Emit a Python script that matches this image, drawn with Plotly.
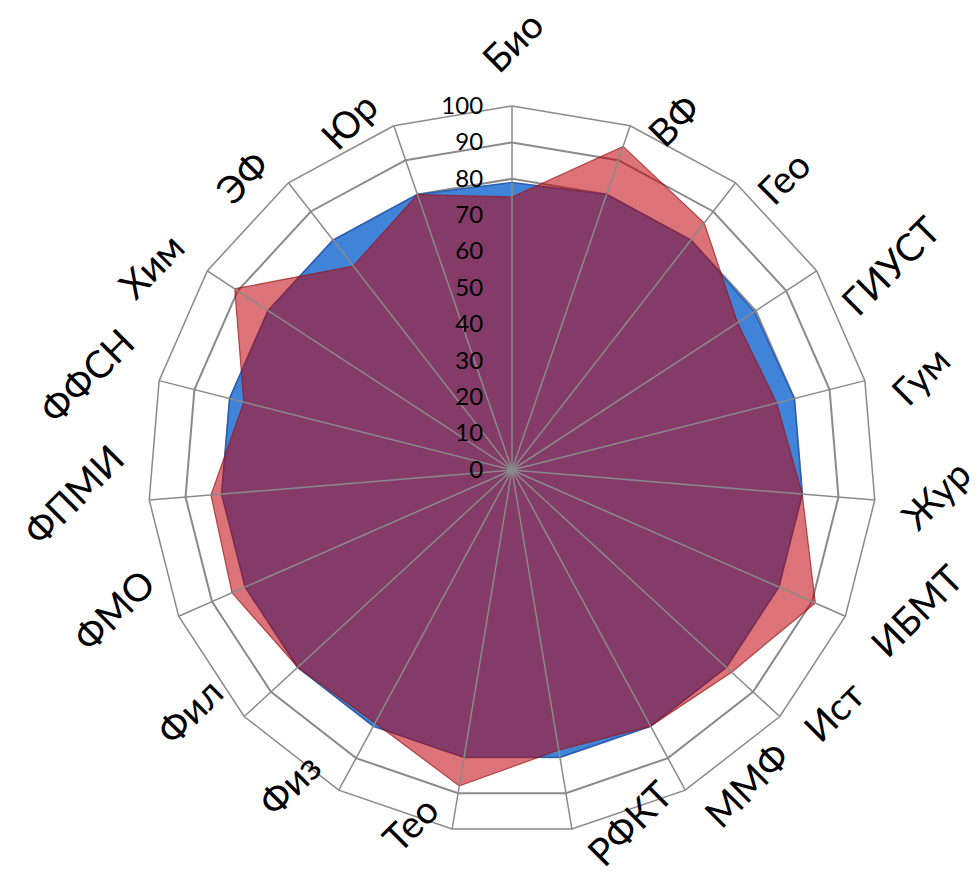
import math
import plotly.graph_objects as go

categories = ["Био", "ВФ", "Гео", "ГИУСТ", "Гум", "Жур", "ИБМТ", "Ист", "ММФ", "РФКТ",
              "Тео", "Физ", "Фил", "ФМО", "ФПМИ", "ФФСН", "Хим", "ЭФ", "Юр"]
blue_values = [79, 80, 80, 79.5, 80, 80, 80, 80, 80, 80, 80, 80, 80, 80, 80, 80, 80, 80, 80]
red_values = [75, 94, 86, 74, 75, 80, 91, 82, 80, 78, 88, 79, 80, 84, 83, 76, 91, 71, 80]
radial_ticks = list(range(0, 101, 10))
R_MIN, R_MAX = 0, 100

GRID = "rgb(138,138,138)"
PLOT_PX = 728          # side of the square plot area (px)
LABEL_FONT = 38
SIDE_PAD = 14
TOP_PAD = 22
V_SHIFT = 6

fig = go.Figure()
fig.add_trace(go.Scatterpolar(
    r=blue_values + [blue_values[0]], theta=categories + [categories[0]],
    mode="lines", fill="toself", fillcolor="rgb(64,132,218)",
    line=dict(color="rgb(40,95,180)", width=1.5), showlegend=False, hoverinfo="skip"))
fig.add_trace(go.Scatterpolar(
    r=red_values + [red_values[0]], theta=categories + [categories[0]],
    mode="lines", fill="toself", fillcolor="rgba(190,0,10,0.55)",
    line=dict(color="rgba(150,20,20,0.7)", width=1.2), showlegend=False, hoverinfo="skip"))
for c in categories:
    fig.add_trace(go.Scatterpolar(
        r=[R_MIN, R_MAX], theta=[c, c], mode="lines",
        line=dict(color=GRID, width=1.5), showlegend=False, hoverinfo="skip"))

# category labels, rotated like the reference, placed beside each spoke end
annotations = []
n = len(categories)
R_PX = PLOT_PX / 2
for i, cat in enumerate(categories):
    th = 2 * math.pi * i / n
    s, c = math.sin(th), math.cos(th)
    ex, ey = R_PX * s, R_PX * c
    if abs(s) < 1e-6 and c > 0:
        x, y, xa, ya = ex, ey + TOP_PAD, "center", "bottom"
    else:
        x = ex + SIDE_PAD * s
        y = ey + V_SHIFT
        xa = "left" if s > 0 else "right"
        ya = "middle"
    annotations.append(dict(
        text=cat, x=0.5 + x / PLOT_PX, y=0.5 + y / PLOT_PX,
        xref="paper", yref="paper", xanchor=xa, yanchor=ya,
        textangle=-45, showarrow=False,
        font=dict(family="Lato", size=LABEL_FONT, color="black")))

fig.update_layout(
    width=978, height=890,
    paper_bgcolor="white",
    margin=dict(l=140, r=110, t=98, b=64),
    showlegend=False,
    annotations=annotations,
    polar=dict(
        domain=dict(x=[0, 1], y=[0, 1]),
        gridshape="linear",
        bgcolor="white",
        angularaxis=dict(
            type="category", categoryorder="array", categoryarray=categories,
            direction="clockwise", rotation=90,
            showgrid=False, showline=True, linecolor=GRID, linewidth=1.5,
            ticks="", showticklabels=False,
        ),
        radialaxis=dict(
            range=[R_MIN, R_MAX], tickvals=radial_ticks, angle=90,
            showline=False, gridcolor=GRID, gridwidth=1.5,
            ticks="outside", ticklen=20, tickcolor="rgba(0,0,0,0)",
            side="counterclockwise", tickangle=90,
            tickfont=dict(family="Lato", size=24, color="black"),
        ),
    ),
)

fig.write_html("out.html")
